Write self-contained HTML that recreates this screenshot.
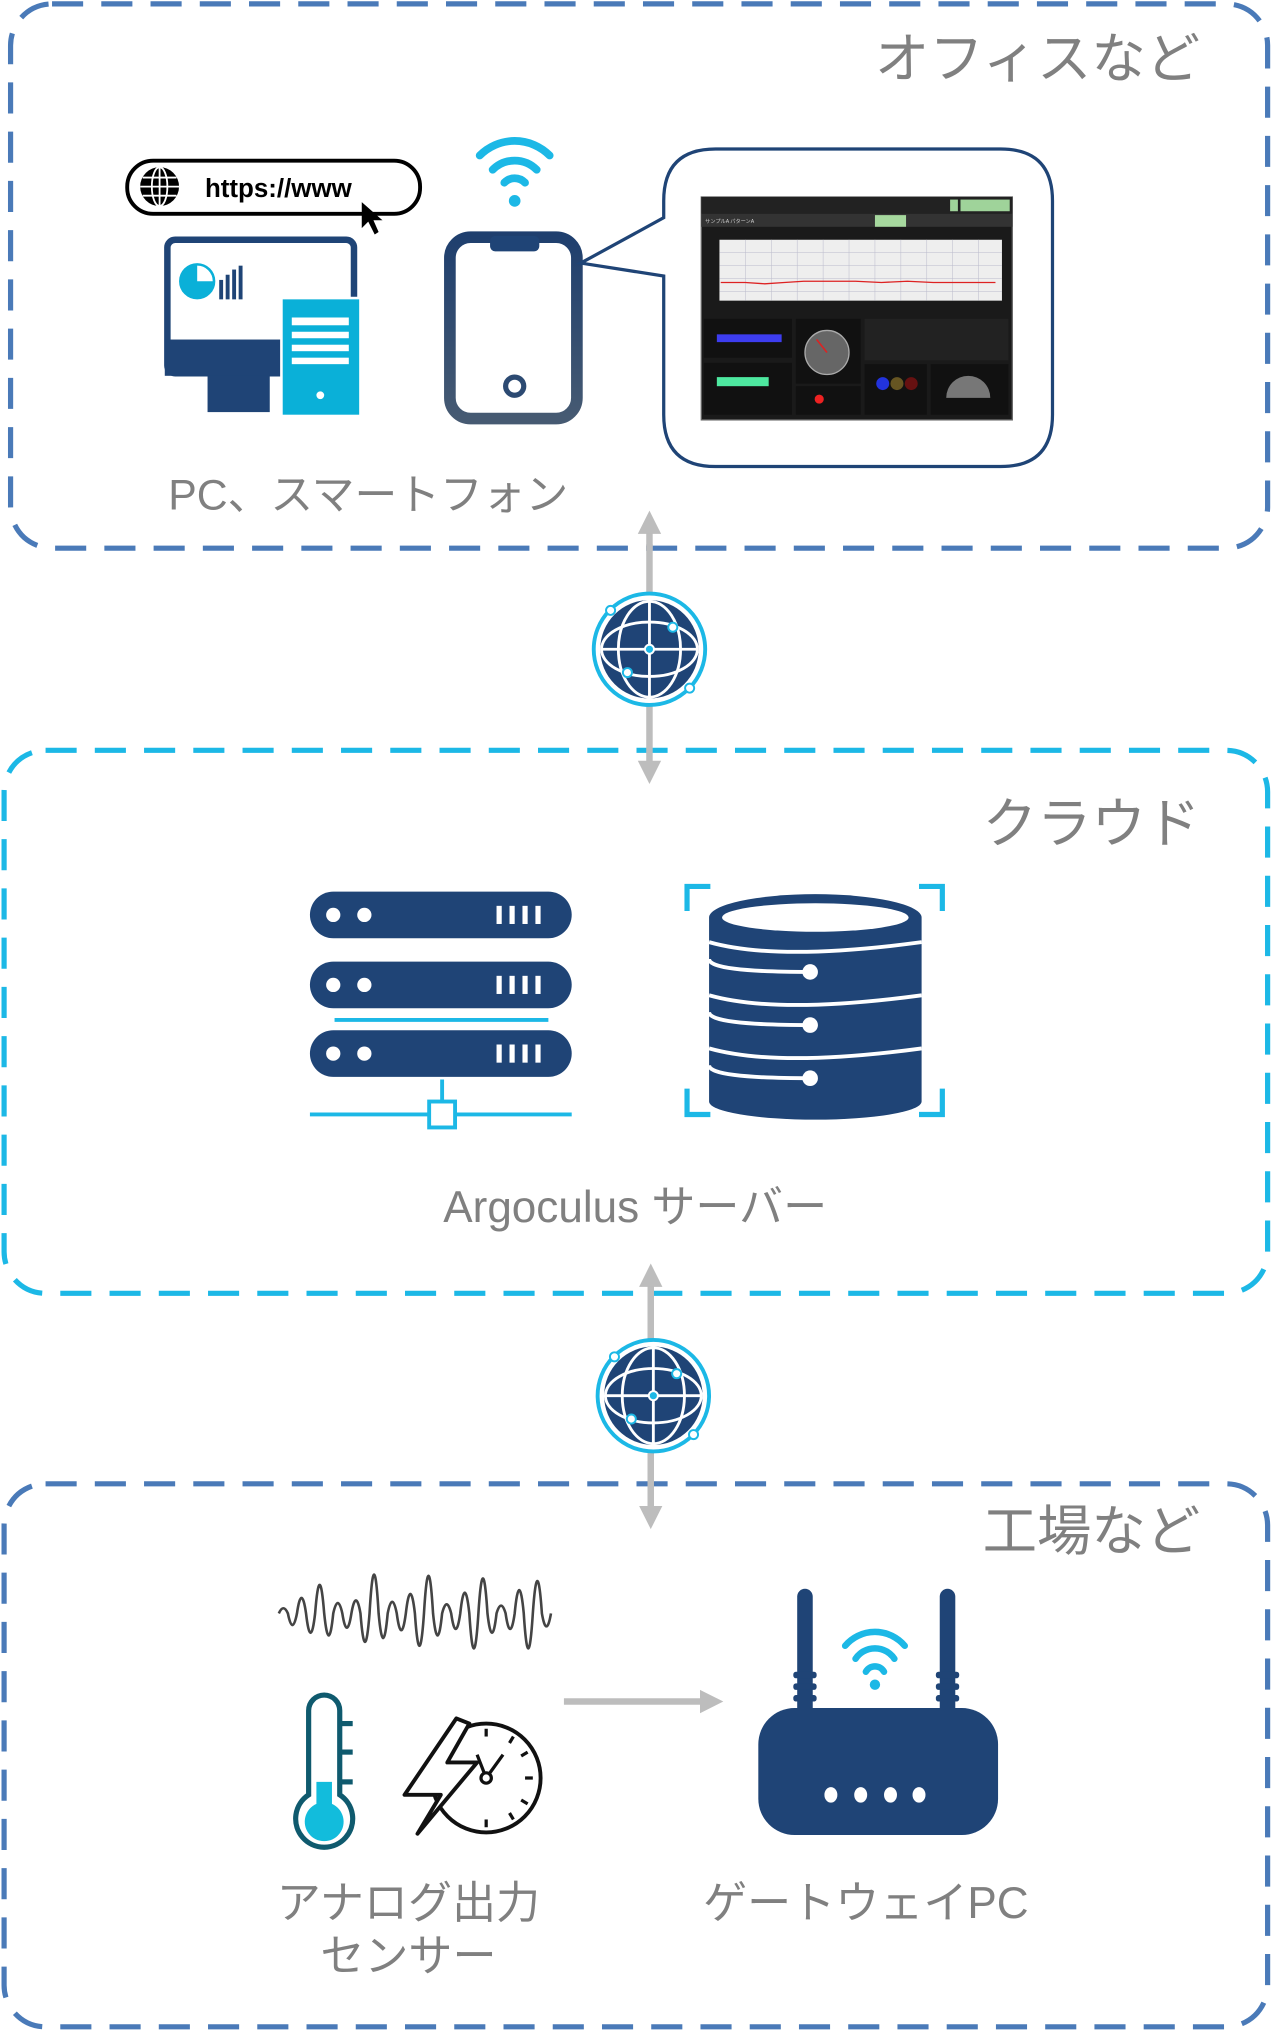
<!DOCTYPE html>
<html><head><meta charset="utf-8"><style>
html,body{margin:0;padding:0;background:#fff;}
svg{display:block;}
text{font-family:"Liberation Sans","Noto Sans CJK JP",sans-serif;}
</style></head><body>
<svg width="1273" height="2032" viewBox="0 0 982 1568" xmlns="http://www.w3.org/2000/svg">
<defs>
<marker id="ah" markerWidth="4" markerHeight="4" refX="2" refY="2" orient="auto" markerUnits="strokeWidth"><path d="M0,0.2 L3.6,2 L0,3.8z" fill="#bdbdbd"/></marker>
<linearGradient id="pg" x1="0" y1="0" x2="0" y2="1"><stop offset="0" stop-color="#1f3f6e"/><stop offset="1" stop-color="#465a72"/></linearGradient>
<g id="globe">
<circle r="43" fill="#fff" stroke="#1cb8e6" stroke-width="3"/>
<circle r="38" fill="#1f4476"/>
<g fill="none" stroke="#fff" stroke-width="2.2">
<ellipse rx="24" ry="37"/><ellipse rx="37" ry="21"/>
<line x1="0" y1="-37" x2="0" y2="37"/><line x1="-37" y1="0" x2="37" y2="0"/>
</g>
<circle r="3.5" fill="#1cb8e6" stroke="#fff" stroke-width="1.5"/>
<circle cx="-30" cy="-30" r="3.5" fill="#fff" stroke="#1cb8e6" stroke-width="1.5"/>
<circle cx="18" cy="-17" r="3.5" fill="#fff" stroke="#1cb8e6" stroke-width="1.5"/>
<circle cx="-17" cy="18" r="3.5" fill="#fff" stroke="#1cb8e6" stroke-width="1.5"/>
<circle cx="31" cy="30" r="3.5" fill="#fff" stroke="#1cb8e6" stroke-width="1.5"/>
</g>
</defs>

<rect x="8" y="3" width="970" height="420" rx="32" fill="none" stroke="#4a7ab8" stroke-width="4" stroke-dasharray="24,14"/>
<rect x="3" y="579" width="975" height="419" rx="32" fill="none" stroke="#1cb8e6" stroke-width="4" stroke-dasharray="24,14"/>
<rect x="3" y="1145" width="975" height="419" rx="32" fill="none" stroke="#4a7ab8" stroke-width="4" stroke-dasharray="24,14"/>

<text x="926" y="60" text-anchor="end" font-size="42" fill="#808080">オフィスなど</text>
<text x="926" y="650" text-anchor="end" font-size="42" fill="#808080">クラウド</text>
<text x="926" y="1196" text-anchor="end" font-size="42" fill="#808080">工場など</text>

<line x1="501" y1="425" x2="501" y2="402" stroke="#bdbdbd" stroke-width="5" marker-end="url(#ah)"/>
<line x1="501" y1="420" x2="501" y2="597" stroke="#bdbdbd" stroke-width="5" marker-end="url(#ah)"/>
<use href="#globe" x="501" y="501"/>
<line x1="502" y1="1000" x2="502" y2="983" stroke="#bdbdbd" stroke-width="5" marker-end="url(#ah)"/>
<line x1="502" y1="995" x2="502" y2="1172" stroke="#bdbdbd" stroke-width="5" marker-end="url(#ah)"/>
<use href="#globe" x="504" y="1077"/>
<line x1="435" y1="1313" x2="550" y2="1313" stroke="#bdbdbd" stroke-width="5" marker-end="url(#ah)"/>

<rect x="98" y="124" width="226" height="41" rx="20" fill="#fff" stroke="#000" stroke-width="3"/>
<circle cx="123" cy="144" r="15" fill="#000"/>
<g stroke="#fff" stroke-width="1.4" fill="none"><ellipse cx="123" cy="144" rx="6" ry="15"/><line x1="123" y1="129" x2="123" y2="159"/><line x1="108" y1="144" x2="138" y2="144"/><line x1="110" y1="137" x2="136" y2="137"/><line x1="110" y1="151" x2="136" y2="151"/></g>
<text x="158" y="152" font-size="20" font-weight="bold" fill="#000">https://www</text>
<path d="M279 156 L279 176 L284 171 L289 181 L292 179 L288 170 L295 170 Z" fill="#000"/>

<rect x="129" y="185" width="144" height="103" rx="6" fill="#fff" stroke="#1f4476" stroke-width="5"/>
<rect x="127" y="262" width="148" height="28" fill="#1f4476"/>
<rect x="160" y="290" width="48" height="28" fill="#1f4476"/>
<circle cx="152" cy="217" r="13" fill="#0ab0d8"/><path d="M152 217 L152 204 A13 13 0 0 1 165 217 Z" fill="#fff"/><circle cx="152" cy="217" r="13" fill="none" stroke="#0ab0d8" stroke-width="2"/>
<g fill="#1f4476"><rect x="169" y="216" width="3" height="15"/><rect x="174" y="212" width="3" height="19"/><rect x="179" y="208" width="3" height="23"/><rect x="184" y="205" width="3" height="26"/></g>
<rect x="217" y="230" width="61" height="91" fill="#0ab0d8" stroke="#fff" stroke-width="2"/>
<g fill="#fff"><rect x="225" y="245" width="44" height="6"/><rect x="225" y="256" width="44" height="5"/><rect x="225" y="266" width="44" height="5"/><rect x="225" y="276" width="44" height="5"/><circle cx="247" cy="305" r="3"/></g>

<g fill="none" stroke="#1cb8e6" stroke-width="6" stroke-linecap="round">
<path d="M370 120 A38 38 0 0 1 424 120"/><path d="M380 131 A24 24 0 0 1 414 131"/><path d="M389 141 A11 11 0 0 1 405 141"/></g>
<circle cx="397" cy="155" r="4.5" fill="#1cb8e6"/>

<rect x="347" y="183" width="98" height="140" rx="16" fill="#fff" stroke="url(#pg)" stroke-width="9"/>
<rect x="378" y="182" width="38" height="12" rx="4" fill="#1f4476"/>
<circle cx="397" cy="298" r="7" fill="none" stroke="#2c4a72" stroke-width="4"/>

<path d="M552 115 L772 115 Q812 115 812 155 L812 320 Q812 360 772 360 L552 360 Q512 360 512 320 L512 213 L448 203 L512 168 L512 155 Q512 115 552 115 Z" fill="#fff" stroke="#1f4476" stroke-width="2.5"/>
<rect x="541" y="152" width="240" height="172" fill="#1a1a1a" stroke="#666" stroke-width="1"/>
<rect x="541" y="152" width="240" height="13" fill="#222"/>
<rect x="741" y="154" width="38" height="9" fill="#9fd39a"/>
<rect x="733" y="154" width="6" height="9" fill="#9fd39a"/>
<rect x="541" y="165" width="240" height="10" fill="#333"/>
<rect x="675" y="166" width="24" height="9" fill="#a6d89e"/>
<text x="544" y="172" font-size="4" fill="#ccc">サンプルA パターンA</text>
<rect x="555" y="185" width="218" height="47" fill="#eee"/>
<g stroke="#bbc" stroke-width="0.4">
<line x1="555" y1="195" x2="773" y2="195"/><line x1="555" y1="205" x2="773" y2="205"/><line x1="555" y1="215" x2="773" y2="215"/><line x1="555" y1="225" x2="773" y2="225"/>
<line x1="575" y1="185" x2="575" y2="232"/><line x1="595" y1="185" x2="595" y2="232"/><line x1="615" y1="185" x2="615" y2="232"/><line x1="635" y1="185" x2="635" y2="232"/><line x1="655" y1="185" x2="655" y2="232"/><line x1="675" y1="185" x2="675" y2="232"/><line x1="695" y1="185" x2="695" y2="232"/><line x1="715" y1="185" x2="715" y2="232"/><line x1="735" y1="185" x2="735" y2="232"/><line x1="755" y1="185" x2="755" y2="232"/></g>
<polyline points="556,218 575,218 590,219 605,218 620,217 640,217 660,217 680,218 700,217 720,218 745,218 768,218" fill="none" stroke="#d22" stroke-width="1"/>
<rect x="543" y="246" width="68" height="30" fill="#111"/><rect x="553" y="258" width="50" height="6" fill="#3d3df0"/>
<rect x="543" y="280" width="68" height="40" fill="#111"/><rect x="553" y="291" width="40" height="7" fill="#4ee8a0"/>
<rect x="614" y="246" width="50" height="50" fill="#111"/><circle cx="638" cy="272" r="17" fill="#666" stroke="#aaa" stroke-width="1"/><line x1="638" y1="272" x2="630" y2="262" stroke="#d22" stroke-width="1.2"/>
<rect x="614" y="298" width="50" height="22" fill="#111"/><circle cx="632" cy="308" r="3.5" fill="#e22"/>
<rect x="667" y="246" width="111" height="32" fill="#222"/>
<rect x="667" y="281" width="48" height="39" fill="#111"/><circle cx="681" cy="296" r="5" fill="#2233dd"/><circle cx="692" cy="296" r="5" fill="#665522"/><circle cx="703" cy="296" r="5" fill="#661111"/>
<rect x="718" y="281" width="60" height="39" fill="#111"/><path d="M730 307 A17 17 0 0 1 764 307 Z" fill="#777"/>

<text x="284" y="393" text-anchor="middle" font-size="33" fill="#808080">PC、スマートフォン</text>

<g fill="#1f4476">
<rect x="239" y="688" width="202" height="36" rx="18"/>
<rect x="239" y="742" width="202" height="36" rx="18"/>
<rect x="239" y="795" width="202" height="36" rx="18"/></g>
<g fill="#fff">
<circle cx="257" cy="706" r="5.5"/><circle cx="281" cy="706" r="5.5"/>
<circle cx="257" cy="760" r="5.5"/><circle cx="281" cy="760" r="5.5"/>
<circle cx="257" cy="813" r="5.5"/><circle cx="281" cy="813" r="5.5"/>
<rect x="383" y="699" width="4" height="14"/><rect x="393" y="699" width="4" height="14"/><rect x="403" y="699" width="4" height="14"/><rect x="413" y="699" width="4" height="14"/>
<rect x="383" y="753" width="4" height="14"/><rect x="393" y="753" width="4" height="14"/><rect x="403" y="753" width="4" height="14"/><rect x="413" y="753" width="4" height="14"/>
<rect x="383" y="806" width="4" height="14"/><rect x="393" y="806" width="4" height="14"/><rect x="403" y="806" width="4" height="14"/><rect x="413" y="806" width="4" height="14"/></g>
<line x1="258" y1="787" x2="423" y2="787" stroke="#1cb8e6" stroke-width="3"/>
<line x1="341" y1="833" x2="341" y2="850" stroke="#1cb8e6" stroke-width="3"/>
<line x1="239" y1="860" x2="441" y2="860" stroke="#1cb8e6" stroke-width="3"/>
<rect x="331" y="850" width="20" height="20" fill="#fff" stroke="#1cb8e6" stroke-width="3"/>

<g fill="none" stroke="#1cb8e6" stroke-width="4">
<path d="M530 703 L530 684 L548 684"/><path d="M709 684 L727 684 L727 703"/>
<path d="M530 840 L530 860 L548 860"/><path d="M709 860 L727 860 L727 840"/></g>
<g fill="#1f4476">
<path d="M547 708 A82 18 0 0 1 711 708 L711 850 A82 14 0 0 1 547 850 Z"/></g>
<ellipse cx="629" cy="708" rx="72" ry="11" fill="#fff"/>
<g fill="none" stroke="#fff" stroke-width="3">
<path d="M547 740 Q547 750 625 750"/><path d="M547 781 Q547 791 625 791"/><path d="M547 822 Q547 832 625 832"/>
<path d="M547 727 Q600 742 711 727"/><path d="M547 768 Q600 783 711 768"/><path d="M547 809 Q600 824 711 809"/></g>
<g fill="#fff"><circle cx="625" cy="750" r="6"/><circle cx="625" cy="791" r="6"/><circle cx="625" cy="832" r="6"/></g>

<text x="490" y="943" text-anchor="middle" font-size="34" fill="#808080">Argoculus サーバー</text>

<path d="M215 1245 q3.5 -8 7 0 q3.5 18 7 0 q3.5 -24 7 0 q3.5 30 7 0 q3.5 -44 7 0 q3.5 34 7 0 q3.5 -16 7 0 q3.5 22 7 0 q3.5 -20 7 0 q3.5 44 7 0 q3.5 -60 7 0 q3.5 38 7 0 q3.5 -18 7 0 q3.5 26 7 0 q3.5 -30 7 0 q3.5 50 7 0 q3.5 -58 7 0 q3.5 34 7 0 q3.5 -14 7 0 q3.5 24 7 0 q3.5 -32 7 0 q3.5 54 7 0 q3.5 -54 7 0 q3.5 30 7 0 q3.5 -12 7 0 q3.5 24 7 0 q3.5 -36 7 0 q3.5 54 7 0 q3.5 -50 7 0 q3.5 20 7 0" fill="none" stroke="#444" stroke-width="2"/>

<path d="M238 1320 A12 12 0 0 1 262 1320 L262 1385 A22 22 0 1 1 238 1385 Z" fill="#fff" stroke="#0f5a6e" stroke-width="4"/>
<path d="M244 1375 L256 1375 L256 1392 A15 15 0 1 1 244 1392 Z" fill="#12bcdc"/>
<g stroke="#0f5a6e" stroke-width="4"><line x1="262" y1="1330" x2="272" y2="1330"/><line x1="262" y1="1352" x2="272" y2="1352"/><line x1="262" y1="1375" x2="272" y2="1375"/></g>

<circle cx="375" cy="1372" r="42" fill="#fff" stroke="#111" stroke-width="3"/>
<g stroke="#111" stroke-width="2.5"><line x1="375" y1="1334" x2="375" y2="1340"/><line x1="411" y1="1372" x2="405" y2="1372"/><line x1="375" y1="1410" x2="375" y2="1404"/><line x1="396" y1="1340" x2="393" y2="1345"/><line x1="407" y1="1352" x2="402" y2="1355"/><line x1="407" y1="1392" x2="402" y2="1389"/><line x1="396" y1="1404" x2="393" y2="1399"/></g>
<path d="M375 1372 L368 1354 M375 1372 L388 1354" stroke="#111" stroke-width="2.5" fill="none"/><circle cx="375" cy="1372" r="4" fill="#fff" stroke="#111" stroke-width="2.5"/>
<path d="M352 1326 L312 1385 L340 1385 L322 1415 L368 1360 L345 1360 L362 1330 Z" fill="#fff" stroke="#111" stroke-width="3" stroke-linejoin="round"/>

<g fill="#1f4476">
<rect x="615" y="1226" width="12" height="100" rx="6"/><rect x="725" y="1226" width="12" height="100" rx="6"/>
<rect x="612" y="1290" width="18" height="5" rx="2"/><rect x="612" y="1299" width="18" height="5" rx="2"/><rect x="612" y="1308" width="18" height="5" rx="2"/>
<rect x="722" y="1290" width="18" height="5" rx="2"/><rect x="722" y="1299" width="18" height="5" rx="2"/><rect x="722" y="1308" width="18" height="5" rx="2"/>
<rect x="585" y="1318" width="185" height="98" rx="28"/></g>
<g fill="#fff"><ellipse cx="641" cy="1385" rx="5" ry="6"/><ellipse cx="664" cy="1385" rx="5" ry="6"/><ellipse cx="687" cy="1385" rx="5" ry="6"/><ellipse cx="709" cy="1385" rx="5" ry="6"/></g>
<g fill="none" stroke="#1cb8e6" stroke-width="5" stroke-linecap="round">
<path d="M652 1270 A30 30 0 0 1 698 1270"/><path d="M660 1280 A18 18 0 0 1 690 1280"/><path d="M668 1290 A8 8 0 0 1 682 1290"/></g>
<circle cx="675" cy="1300" r="4" fill="#1cb8e6"/>

<text x="315" y="1480" text-anchor="middle" font-size="34" fill="#808080">アナログ出力</text>
<text x="315" y="1521" text-anchor="middle" font-size="34" fill="#808080">センサー</text>
<text x="668" y="1480" text-anchor="middle" font-size="34" fill="#808080">ゲートウェイPC</text>
</svg>
</body></html>
